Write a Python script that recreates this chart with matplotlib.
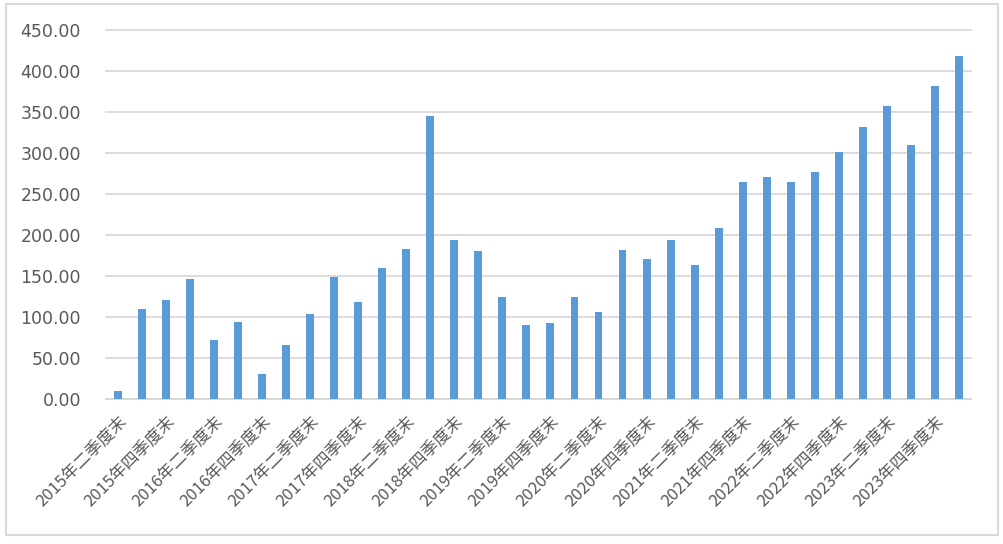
import matplotlib.pyplot as plt
from matplotlib.patches import Rectangle
import numpy as np

plt.rcParams['font.family'] = ['Noto Sans CJK SC', 'DejaVu Sans']

# 2015年二季度末 ... 2024年一季度末
quarters = []
for y in range(2015, 2025):
    for q in ['一', '二', '三', '四']:
        quarters.append(f'{y}年{q}季度末')
quarters = quarters[1:37]

values = [10, 110, 121, 146, 72, 94, 31, 66, 104, 149,
          118, 160, 183, 345, 194, 180, 124, 90, 93, 124,
          106, 181, 170, 194, 163, 208, 264, 270, 264, 276,
          301, 331, 357, 310, 381, 418]

yticks = np.arange(0, 451, 50)

fig = plt.figure(figsize=(10.04, 5.44), dpi=100)
ax = fig.add_axes([0.1056, 0.2665, 0.8614, 0.679])

x = np.arange(len(values))
ax.bar(x, values, width=0.33, color='#5b9bd5', zorder=3)

ax.set_xlim(-0.5, len(values) - 0.5)
ax.set_ylim(0, 450)
ax.set_yticks(yticks)
ax.set_yticklabels([f'{v:.2f}' for v in yticks], fontsize=12.5, color='#595959',
                   family='DejaVu Sans')
ax.yaxis.grid(True, color='#d9d9d9', linewidth=1.3, zorder=0)
for gl in ax.get_ygridlines():
    gl.set_clip_on(False)
ax.tick_params(axis='both', length=0)
ax.tick_params(axis='y', pad=18)

ax.set_xticks(x[::2])
ax.set_xticklabels(quarters[::2], rotation=45, ha='right', va='top',
                   rotation_mode='anchor', fontsize=12, color='#595959')
ax.tick_params(axis='x', pad=10)

for s in ['top', 'right', 'left']:
    ax.spines[s].set_visible(False)
ax.spines['bottom'].set_color('#d9d9d9')
ax.spines['bottom'].set_linewidth(1.3)

fig.patches.append(Rectangle((6 / 1004, 1 - 535 / 544), 992 / 1004, 531 / 544,
                             transform=fig.transFigure, fill=False,
                             edgecolor='#d9d9d9', linewidth=1.5))

fig.savefig('out.png', dpi=100)
